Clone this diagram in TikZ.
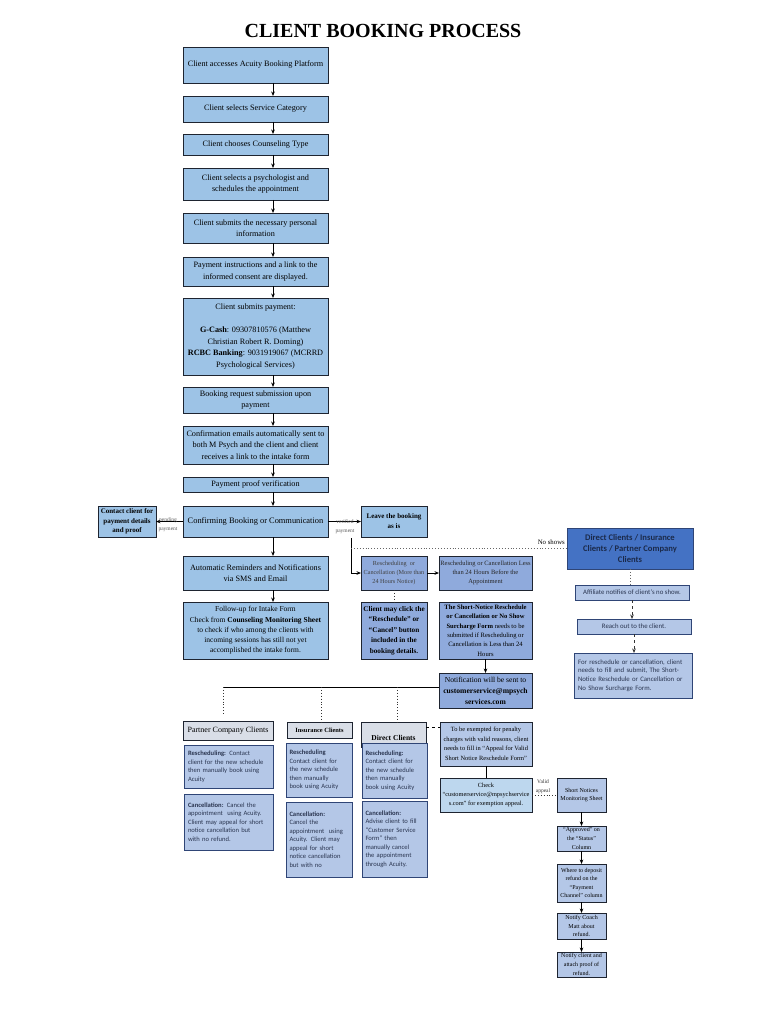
\documentclass[tikz,border=0pt]{standalone}
\usepackage{fontspec}
\setmainfont{Liberation Serif}
\newfontfamily\carl{Carlito}
\usetikzlibrary{arrows.meta}
\definecolor{cMain}{HTML}{9DC3E6}
\definecolor{cPeri}{HTML}{8FAADC}
\definecolor{cStrong}{HTML}{4472C4}
\definecolor{cLight}{HTML}{B4C7E7}
\definecolor{cHead}{HTML}{D9DEE7}
\definecolor{cSky}{HTML}{BDD7EE}
\definecolor{cLine}{HTML}{1E2430}
\definecolor{cNavy}{HTML}{2F4576}
\definecolor{cTxt}{HTML}{2A3550}
\definecolor{cDeep}{HTML}{1B2A4A}
\newcommand\placebox[7]{%
  \pgfmathsetmacro\pbW{#4-#2}\pgfmathsetmacro\pbH{#5-#3}%
  \node[#6, minimum width=\pbW pt, minimum height=\pbH pt] (#1) at (#2,#3) {#7};}
\tikzset{
  bbase/.style={draw=cLine, line width=0.75pt, align=center, inner sep=1pt, outer sep=0pt, anchor=north west, text=black},
  mbox/.style={bbase, fill=cMain, font=\fontsize{8.2}{11.5}\selectfont},
  pbox/.style={bbase, fill=cPeri},
  subbox/.style={bbase, fill=cLight, draw=cNavy, align=left, text=cTxt, font=\carl\fontsize{6.6}{8.5}\selectfont},
  headbox/.style={bbase, fill=cHead},
  affbox/.style={bbase, fill=cLight, draw=cNavy, text=cTxt, font=\carl\fontsize{6.8}{8.7}\selectfont},
  rbox/.style={bbase, fill=cLight, font=\fontsize{6}{8.6}\selectfont},
  tlabel/.style={inner sep=0pt, align=center, text=black!65, font=\fontsize{5.5}{9}\selectfont},
  myarr/.style={-{Stealth[length=4.5pt,width=3.6pt]}, line width=0.8pt, draw=black},
  dotline/.style={dotted, line width=0.9pt, draw=black!80},
  dasharr/.style={dashed, -{Stealth[length=4.5pt,width=3.6pt]}, line width=0.7pt, draw=black!80},
}
\begin{document}
\begin{tikzpicture}[x=1pt,y=-1pt]
\fill[white] (0,0) rectangle (768,1024);
\useasboundingbox (0,0) rectangle (768,1024);

\node[font=\bfseries\fontsize{20}{24}\selectfont] (title) at (383,31) {CLIENT BOOKING PROCESS};

% main column
\placebox{m1}{183}{47}{328}{83}{mbox}{Client accesses Acuity Booking Platform}
\placebox{m2}{183}{96}{328}{122}{mbox}{Client selects Service Category}
\placebox{m3}{183}{134}{328}{155}{mbox}{Client chooses Counseling Type}
\placebox{m4}{183}{168}{328}{200}{mbox}{Client selects a psychologist and\\schedules the appointment}
\placebox{m5}{183}{213}{328}{243}{mbox}{Client submits the necessary personal\\information}
\placebox{m6}{183}{257}{328}{286}{mbox}{Payment instructions and a link to the\\informed consent are displayed.}
\placebox{m7}{183}{298}{328}{375}{mbox}{Client submits payment:\\[11.5pt]\textbf{G-Cash}: 09307810576 (Matthew\\Christian Robert R. Doming)\\\textbf{RCBC Banking}: 9031919067 (MCRRD\\Psychological Services)}
\placebox{m8}{183}{387}{328}{413}{mbox}{Booking request submission upon\\payment}
\placebox{m9}{183}{426}{328}{464}{mbox}{Confirmation emails automatically sent to\\both M Psych and the client and client\\receives a link to the intake form}
\placebox{m10}{183}{477}{328}{492}{mbox}{Payment proof verification}
\placebox{m11}{183}{506}{328}{537}{mbox, font=\fontsize{8.4}{11}\selectfont}{Confirming Booking or Communication}
\placebox{m12}{183}{556}{328}{590}{mbox}{Automatic Reminders and Notifications\\via SMS and Email}
\placebox{m13}{183}{602}{328}{659}{mbox, font=\fontsize{7.5}{10.3}\selectfont}{Follow-up for Intake Form\\Check from \textbf{Counseling Monitoring Sheet}\\to check if who among the clients with\\incoming sessions has still not yet\\accomplished the intake form.}

\coordinate (colx) at (273,0);
\foreach \a/\b in {m1/m2,m2/m3,m3/m4,m4/m5,m5/m6,m6/m7,m7/m8,m8/m9,m9/m10,m10/m11,m11/m12,m12/m13}
  \draw[myarr] (\a.south -| colx) -- (\b.north -| colx);

% side boxes
\placebox{contact}{98}{506}{156}{537}{mbox, font=\bfseries\fontsize{7}{9.5}\selectfont}{Contact client for\\payment details\\and proof}
\placebox{leave}{361}{506}{427}{537}{mbox, font=\bfseries\fontsize{7}{10}\selectfont}{Leave the booking\\as is}
\placebox{resA}{361}{556}{427}{590}{pbox, text=black!75, font=\fontsize{6.2}{9}\selectfont}{Rescheduling\ \ or\\Cancellation (More than\\24 Hours Notice)}
\placebox{resB}{439}{556}{532}{590}{pbox, text=black!85, font=\fontsize{6.5}{9.3}\selectfont}{Rescheduling or Cancellation Less\\than 24 Hours Before the\\Appointment}
\placebox{click}{361}{602}{427}{659}{pbox, font=\bfseries\fontsize{7.2}{10.5}\selectfont}{Client may click the\\“Reschedule” or\\“Cancel” button\\included in the\\booking details.}
\placebox{shortn}{439}{602}{532}{659}{pbox, font=\fontsize{6.6}{9.3}\selectfont}{\textbf{The Short-Notice Reschedule}\\\textbf{or Cancellation or No Show}\\\textbf{Surcharge Form} needs to be\\submitted if Rescheduling or\\Cancellation is Less than 24\\Hours}
\placebox{notif}{439}{673}{532}{708}{pbox, font=\fontsize{7.6}{11}\selectfont}{Notification will be sent to\\\textbf{customerservice@mpsych}\\\textbf{services.com}}

\draw[myarr] (m11.west) -- (contact.east);
\node[tlabel] (pend) at (168,525) {pending\\payment};
\draw[myarr] (m11.east) -- (leave.west);
\node[tlabel] (veri) at (345,527) {verified\\payment};
\coordinate (br) at (351,538);
\draw[line width=0.8pt] (br) |- ([xshift=-5pt]resA.west) coordinate (brend);
\draw[myarr] (brend) -- (resA.west);
\draw[myarr] (resA.east) -- (resB.west);
\draw[dotline] (resA.south) -- (click.north);
\draw[myarr] (shortn.south) -- (notif.north);

% no shows branch
\placebox{blue}{567}{528}{693}{569}{bbase, fill=cStrong, draw=cNavy, text=cDeep, font=\carl\bfseries\fontsize{8.6}{11}\selectfont}{Direct Clients / Insurance\\Clients / Partner Company\\Clients}
\coordinate (ns) at (351,548);
\draw[dotline, black!60] (ns) -- (ns -| blue.west);
\node[anchor=south east, inner sep=0pt, font=\fontsize{6.8}{8}\selectfont] (nsl) at (565,545) {No shows};
\placebox{aff}{575}{585}{689}{600}{affbox}{Affiliate notifies of client’s no show.}
\placebox{reach}{577}{619}{691}{634}{affbox}{Reach out to the client.}
\placebox{forr}{574}{653}{692}{698}{affbox, align=left, text width=110pt}{For reschedule or cancellation, client\\needs to fill and submit, The Short-\\Notice Reschedule or Cancellation or\\No Show Surcharge Form.}
\draw[dotline, black!60] (blue.south) -- (blue.south |- aff.north);
\draw[dasharr] (aff.south) -- (aff.south |- reach.north);
\draw[dasharr] (reach.south) -- (reach.south |- forr.north);

% client type bus
\coordinate (bus) at (223,687);
\draw[line width=0.9pt] (notif.west |- bus) -- (bus);
\coordinate (d1) at (223,715);
\coordinate (d2a) at (321,687);
\coordinate (d3a) at (397,687);
\draw[dotline] (bus) -- (d1);

\placebox{partner}{183}{721}{273}{740}{headbox, font=\fontsize{8}{10}\selectfont}{Partner Company Clients}
\placebox{ins}{287}{722}{352}{738}{headbox, font=\bfseries\fontsize{6.4}{8}\selectfont}{Insurance Clients}
\placebox{direct}{361}{722}{426}{747}{headbox, font=\bfseries\fontsize{7.5}{9}\selectfont}{\rule{0pt}{13pt}Direct Clients}
\draw[dotline] (d2a) -- (d2a |- ins.north);
\draw[dotline] (d3a) -- (d3a |- direct.north);

\placebox{pR}{184}{745}{273}{788}{subbox, text width=81pt}{\textbf{Rescheduling:} Contact\\client for the new schedule\\then manually book using\\Acuity}
\placebox{pC}{184}{794}{273}{850}{subbox, text width=81pt}{\textbf{Cancellation:} Cancel the\\appointment\ \ using Acuity.\\Client may appeal for short\\notice cancellation but\\with no refund.}
\placebox{iR}{286}{743}{352}{797}{subbox, text width=59pt}{\textbf{Rescheduling}\\Contact client for\\the new schedule\\then manually\\book using Acuity}
\placebox{iC}{286}{802}{352}{877}{subbox, text width=59pt}{\textbf{Cancellation:}\\Cancel the\\appointment\ \ using\\Acuity. Client may\\appeal for short\\notice cancellation\\but with no}
\placebox{dR}{362}{743}{427}{798}{subbox, text width=58pt}{\textbf{Rescheduling:}\\Contact client for\\the new schedule\\then manually\\book using Acuity}
\placebox{dC}{362}{801}{427}{877}{subbox, text width=58pt}{\textbf{Cancellation:}\\Advise client to fill\\“Customer Service\\Form” then\\manually cancel\\the appointment\\through Acuity.}

% appeal path
\placebox{exempt}{440}{722}{532}{766}{bbase, fill=cLight, font=\fontsize{6.4}{9.5}\selectfont}{To be exempted for penalty\\charges with valid reasons, client\\needs to fill in “Appeal for Valid\\Short Notice Reschedule Form”}
\placebox{check}{440}{778}{532}{812}{bbase, fill=cSky, font=\fontsize{6.3}{9.3}\selectfont}{Check\\“customerservice@mpsychservice\\s.com” for exemption appeal.}
\draw[dashed, line width=0.8pt] ([yshift=7.5pt]direct.east) -- ([yshift=7.5pt]direct.east -| exempt.west);
\draw[line width=0.8pt] (exempt.south) -- (check.north);

\placebox{mon}{557}{778}{606}{812}{rbox}{Short Notices\\Monitoring Sheet}
\placebox{appr}{557}{826}{606}{851}{rbox}{“Approved” on\\the “Status”\\Column}
\placebox{dep}{557}{864}{606}{902}{rbox}{Where to deposit\\refund on the\\“Payment\\Channel” column}
\placebox{coach}{557}{913}{606}{939}{rbox}{Notify Coach\\Matt about\\refund.}
\placebox{ncl}{557}{952}{606}{977}{rbox}{Notify client and\\attach proof of\\refund.}
\draw[dotline] (check.east) -- (mon.west);
\node[tlabel, text=black!80] (valid) at (543,787) {Valid\\appeal};
\draw[myarr] (mon.south) -- (appr.north);
\draw[myarr] (appr.south) -- (dep.north);
\draw[myarr] (dep.south) -- (coach.north);
\draw[myarr] (coach.south) -- (ncl.north);
\end{tikzpicture}
\end{document}
